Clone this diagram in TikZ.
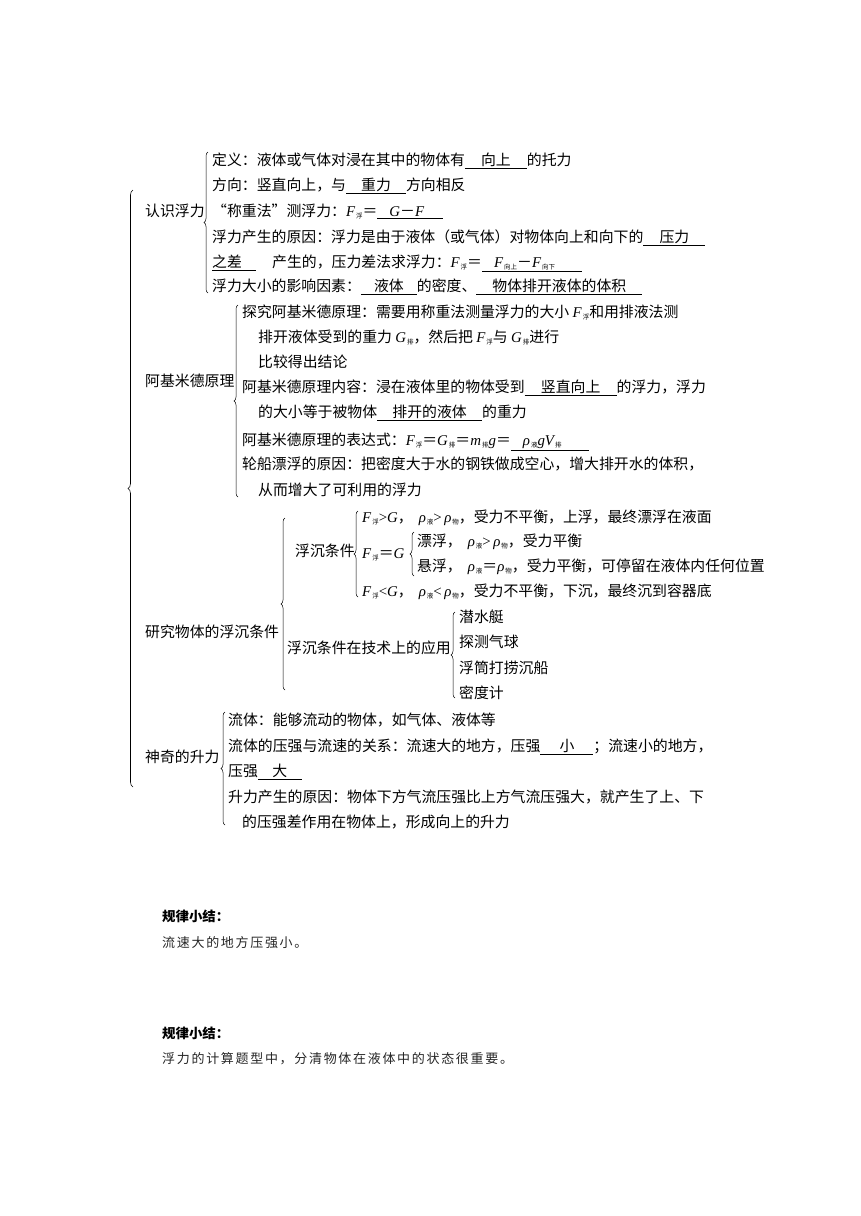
\documentclass[tikz,border=0pt]{standalone}
\usepackage{fontspec}
\setmainfont{Noto Sans CJK SC}
\newfontfamily\tnr{Liberation Serif}
\usetikzlibrary{decorations.pathreplacing}
\newcommand\vi[1]{{\tnr\itshape #1}}
\newcommand\op[1]{{\tnr #1}}
\newcommand\xia[1]{\hspace{1pt}\raisebox{-2pt}{\fontsize{6.5}{7}\selectfont #1}}
\newcommand\blank[2]{\underline{\makebox[#1]{#2}}}
\newcommand\blankl[2]{\underline{\makebox[#1][l]{#2}}}
\newcommand\zihao{\fontsize{14.87}{18}\selectfont}

\begin{document}
\begin{tikzpicture}[x=1pt, y=-1pt, txt/.style={anchor=west, inner sep=0pt, text height=13pt, text depth=1.8pt, font=\zihao}, note/.style={anchor=west, inner sep=0pt, text height=11.4pt, text depth=1.6pt, font=\fontsize{13}{15}\selectfont\addfontfeature{LetterSpace=13}, text=black!85}, head/.style={anchor=west, inner sep=0pt, text height=11.4pt, text depth=1.6pt, font=\fontsize{13.4}{15}\selectfont\bfseries}, brc/.style={decorate, decoration={brace, amplitude=4pt}, line width=0.5pt}, bigbrc/.style={decorate, decoration={brace, amplitude=5pt}, line width=0.6pt}]
\fill[white] (0,0) rectangle (860,1216);
\useasboundingbox (0,0) rectangle (860,1216);

\node[txt] (rs) at (145,211) {认识浮力};
\node[txt] (def) at (212,160) {定义：液体或气体对浸在其中的物体有\blank{62pt}{向上}的托力};
\node[txt] (dir) at (212,185) {方向：竖直向上，与\blank{60pt}{重力}方向相反};
\node[txt] (chz) at (212,211) {“称重法”测浮力：\vi{F}\xia{浮}＝\blankl{66pt}{\hspace{12pt}\vi{G}－\vi{F}}};
\node[txt] (cause) at (212,237) {浮力产生的原因：浮力是由于液体（或气体）对物体向上和向下的\blank{62pt}{压力}};
\node[txt] (cause2) at (212,262) {\blankl{44pt}{之差}\hspace{16pt}产生的，压力差法求浮力：\vi{F}\xia{浮}＝\blankl{100pt}{\hspace{12pt}\vi{F}\xia{向上}－\vi{F}\xia{向下}}};
\node[txt] (fac) at (212,286) {浮力大小的影响因素：\blank{56pt}{液体}的密度、\blank{166pt}{物体排开液体的体积}};
\draw[brc] (208,293) -- (208,152);

\node[txt] (akm) at (145,381) {阿基米德原理};
\node[txt] (tj1) at (242,312) {探究阿基米德原理：需要用称重法测量浮力的大小 \vi{F}\xia{浮}和用排液法测};
\node[txt] (tj2) at (258,337) {排开液体受到的重力 \vi{G}\xia{排}，然后把 \vi{F}\xia{浮}与 \vi{G}\xia{排}进行};
\node[txt] (tj3) at (258,362) {比较得出结论};
\node[txt] (nr1) at (242,387) {阿基米德原理内容：浸在液体里的物体受到\blank{92pt}{竖直向上}的浮力，浮力};
\node[txt] (nr2) at (258,412) {的大小等于被物体\blank{105pt}{排开的液体}的重力};
\node[txt] (bds) at (242,440) {阿基米德原理的表达式：\vi{F}\xia{浮}＝\vi{G}\xia{排}＝\vi{m}\xia{排}\vi{g}＝\blankl{78pt}{\hspace{12pt}\vi{ρ}\xia{液}\vi{gV}\xia{排}}};
\node[txt] (lc1) at (242,464) {轮船漂浮的原因：把密度大于水的钢铁做成空心，增大排开水的体积，};
\node[txt] (lc2) at (258,490) {从而增大了可利用的浮力};
\draw[brc] (238,497) -- (238,305);

\node[txt] (fc) at (145,632) {研究物体的浮沉条件};
\node[txt] (tj) at (295,551) {浮沉条件};
\node[txt] (up) at (362,517) {\vi{F}\xia{浮}\op{>}\vi{G}，\hspace{6pt}\vi{ρ}\xia{液}\op{>}\,\vi{ρ}\xia{物}，受力不平衡，上浮，最终漂浮在液面};
\node[txt] (eq) at (362,553) {\vi{F}\xia{浮}＝\vi{G}};
\node[txt] (pf) at (417,541) {漂浮，\hspace{6pt}\vi{ρ}\xia{液}\op{>}\,\vi{ρ}\xia{物}，受力平衡};
\node[txt] (xf) at (417,566) {悬浮，\hspace{6pt}\vi{ρ}\xia{液}＝\vi{ρ}\xia{物}，受力平衡，可停留在液体内任何位置};
\node[txt] (dn) at (362,591) {\vi{F}\xia{浮}\op{<}\vi{G}，\hspace{6pt}\vi{ρ}\xia{液}\op{<}\,\vi{ρ}\xia{物}，受力不平衡，下沉，最终沉到容器底};
\node[txt] (yy) at (287,648) {浮沉条件在技术上的应用};
\node[txt] (ap1) at (459,617) {潜水艇};
\node[txt] (ap2) at (459,642) {探测气球};
\node[txt] (ap3) at (459,668) {浮筒打捞沉船};
\node[txt] (ap4) at (459,693) {密度计};
\draw[brc] (285,690) -- (285,518);
\draw[brc] (358,597) -- (358,511);
\draw[brc] (414,576) -- (414,532);
\draw[brc] (455,698) -- (455,612);

\node[txt] (sl) at (145,757) {神奇的升力};
\node[txt] (lt1) at (228,720) {流体：能够流动的物体，如气体、液体等};
\node[txt] (lt2) at (228,746) {流体的压强与流速的关系：流速大的地方，压强\blank{53pt}{小}；流速小的地方，};
\node[txt] (lt3) at (228,771) {压强\blank{44pt}{大}};
\node[txt] (sy1) at (228,797) {升力产生的原因：物体下方气流压强比上方气流压强大，就产生了上、下};
\node[txt] (sy2) at (242,822) {的压强差作用在物体上，形成向上的升力};
\draw[brc] (225,825) -- (225,712);

\draw[bigbrc] (133,787) -- (133,190);

\node[head] (h1) at (162,917) {规律小结：};
\node[note] (n1) at (162,943) {流速大的地方压强小。};
\node[head] (h2) at (162,1034) {规律小结：};
\node[note] (n2) at (162,1059) {浮力的计算题型中，分清物体在液体中的状态很重要。};
\end{tikzpicture}
\end{document}
